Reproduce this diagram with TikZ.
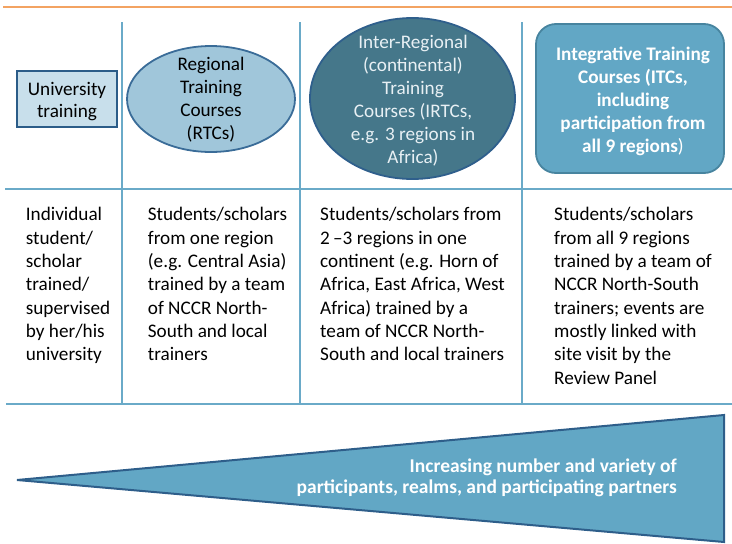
\documentclass[tikz,border=0pt]{standalone}
\usepackage{fontspec}
\setmainfont{Carlito}
\usetikzlibrary{positioning,shapes}
\definecolor{gridblue}{RGB}{106,170,200}
\definecolor{topline}{RGB}{243,163,98}
\definecolor{univfill}{RGB}{200,223,235}
\definecolor{univdraw}{RGB}{43,92,136}
\definecolor{rtcfill}{RGB}{160,198,218}
\definecolor{rtcdraw}{RGB}{58,108,152}
\definecolor{irtcfill}{RGB}{69,119,138}
\definecolor{irtcdraw}{RGB}{47,95,140}
\definecolor{itcfill}{RGB}{98,167,197}
\definecolor{itcdraw}{RGB}{71,132,159}
\definecolor{wedgedraw}{RGB}{46,94,138}
\definecolor{lighttext}{RGB}{232,240,244}
\newcommand{\tstrut}{\rule{0pt}{16pt}}

\begin{document}
\begin{tikzpicture}[x=1pt,y=1pt]
    \tikzstyle{every node}=[inner sep=0,font=\fontsize{19.2}{23.3}\selectfont]
    \tikzstyle{head}=[anchor=north,align=center,font=\fontsize{19.2}{23}\selectfont]
    \tikzstyle{cell}=[anchor=north west,align=left]
    \tikzstyle{gridline}=[draw=gridblue,line width=1.8]
    \tikzstyle{oval}=[ellipse,line width=1.8]
    {
        \useasboundingbox (0,0) rectangle (732,-544);

        \draw[topline,line width=1.5] (3,-7) -- (732,-7);
        \draw[gridline] (5,-189) -- (732,-189);
        \draw[gridline] (6,-404) -- (732,-404);
        \foreach \x in {122,300,522}
            \draw[gridline] (\x,-22) -- (\x,-404);

        \node[rectangle,draw=univdraw,fill=univfill,line width=2.3,
              minimum width=100,minimum height=56] (univ) at (67,-99) {};
        \node[oval,draw=rtcdraw,fill=rtcfill,minimum width=168,minimum height=106] (rtc) at (211,-99) {};
        \node[oval,draw=irtcdraw,fill=irtcfill,minimum width=205,minimum height=161] (irtc) at (412.5,-98.5) {};
        \node[rectangle,rounded corners=20,draw=itcdraw,fill=itcfill,line width=1.8,
              minimum width=188,minimum height=149] (itc) at (630,-98.5) {};

        \node[head,font=\fontsize{19.2}{22}\selectfont] (univtext) at (67,-79) {\tstrut University\\training};
        \node[head] (rtctext) at (211,-54) {\tstrut Regional\\Training\\Courses\\(RTCs)};
        \node[head,text=lighttext] (irtctext) at (413,-32)
            {\tstrut Inter-Regional\\(continental)\\Training\\Courses (IRTCs,\\e.g. 3 regions in\\Africa)};
        \node[head,text=white,font=\fontsize{19.2}{23}\selectfont\bfseries] (itctext) at (633,-44)
            {\tstrut Integrative Training\\Courses (ITCs,\\including\\participation from\\all 9 regions\textmd{)}};

        \node[cell] (c1) at (25.7,-204.7)
            {\tstrut Individual\\student/\\scholar\\trained/\\supervised\\by her/his\\university};
        \node[cell] (c2) at (147.7,-204.7)
            {\tstrut Students/scholars\\from one region\\(e.g. Central Asia)\\trained by a team\\of NCCR North-\\South and local\\trainers};
        \node[cell] (c3) at (320,-204.7)
            {\tstrut Students/scholars from\\2\,--3 regions in one\\continent (e.g. Horn of\\Africa, East Africa, West\\Africa) trained by a\\team of NCCR North-\\South and local trainers};
        \node[cell] (c4) at (554,-204.7)
            {\tstrut Students/scholars\\from all 9 regions\\trained by a team of\\NCCR North-South\\trainers; events are\\mostly linked with\\site visit by the\\Review Panel};

        \coordinate (tip) at (17,-480);
        \coordinate (wtop) at (724,-415);
        \coordinate (wbot) at (724,-542);
        \draw[draw=wedgedraw,fill=itcfill,line width=2,line join=miter] (tip) -- (wtop) -- (wbot) -- cycle;
        \node[anchor=north east,align=right,text=white,font=\fontsize{19.5}{21.5}\selectfont\bfseries] (wedgetext) at (677,-456)
            {\tstrut Increasing number and variety of\\participants, realms, and participating partners};
    }
\end{tikzpicture}
\end{document}
